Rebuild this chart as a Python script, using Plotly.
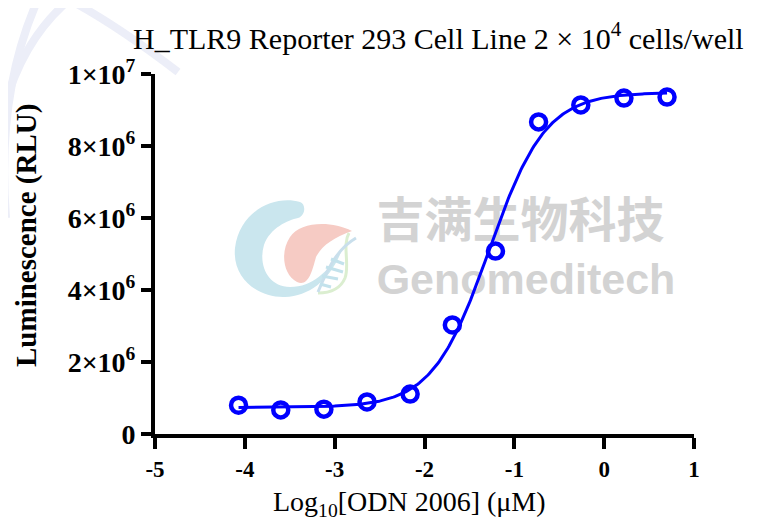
import numpy as np
import plotly.graph_objects as go

# ---- data ----
log_conc = [-4.07, -3.60, -3.12, -2.64, -2.16, -1.69, -1.21, -0.73, -0.26, 0.22, 0.70]
rlu = [0.80e6, 0.67e6, 0.69e6, 0.89e6, 1.11e6, 3.03e6, 5.08e6, 8.67e6, 9.14e6, 9.33e6, 9.36e6]

y_tickvals = [0, 2e6, 4e6, 6e6, 8e6, 1e7]
y_ticktext = ["0", "2×10<sup>6</sup>", "4×10<sup>6</sup>", "6×10<sup>6</sup>",
              "8×10<sup>6</sup>", "1×10<sup>7</sup>"]
x_tickvals = [-5, -4, -3, -2, -1, 0, 1]
x_ticktext = ["-5", "-4", "-3", "-2", "-1", "0", "1"]

title_text = "H_TLR9 Reporter 293 Cell Line 2 × 10<sup>4</sup> cells/well"
x_title = "Log<sub>10</sub>[ODN 2006] (μM)"
y_title = "Luminescence (RLU)"

# ---- 4-parameter logistic fit of the data (as the original curve) ----
xd = np.array(log_conc)
yd = np.array(rlu)
cs = np.arange(-2.0, -0.5, 0.005)
hs = np.arange(0.4, 3.0, 0.01)
C, H = np.meshgrid(cs, hs, indexing="ij")
F = 1.0 / (1.0 + 10 ** ((C[..., None] - xd) * H[..., None]))
n = len(xd)
Sf = F.sum(-1); Sff = (F * F).sum(-1); Sy = yd.sum(); Sfy = (F * yd).sum(-1)
det = n * Sff - Sf * Sf
a = (Sff * Sy - Sf * Sfy) / det
b = (n * Sfy - Sf * Sy) / det
sse = ((a[..., None] + b[..., None] * F - yd) ** 2).sum(-1)
i, j = np.unravel_index(np.argmin(sse), sse.shape)
ec, hill, bottom, span = cs[i], hs[j], a[i, j], b[i, j]
xc = np.linspace(xd.min(), xd.max(), 300)
yc = bottom + span / (1.0 + 10 ** ((ec - xc) * hill))

# ---- layout geometry (screen pixels; page body has an 8px offset) ----
OFF = 8
W, Hh = 759 - OFF, 525 - OFF
PX0, PX1, PY0, PY1 = 155, 694, 74, 434          # plot area on screen
L, T = PX0 - OFF, PY0 - OFF
R = W - (PX1 - OFF)
B = Hh - (PY1 - OFF)
PW, PH = PX1 - PX0, PY1 - PY0


def px(xp, yp):
    return (xp - PX0) / PW, (PY1 - yp) / PH


def path(cmds):
    out = []
    for c in cmds:
        if isinstance(c, str):
            out.append(c)
        else:
            xx, yy = px(*c)
            out.append(f"{xx:.4f},{yy:.4f}")
    return " ".join(out)


BLUE = "#0000FF"
SERIF = "Liberation Serif"

fig = go.Figure()

# watermark text (below data)
fig.add_trace(go.Scatter(
    x=[-0.93], y=[5.80e6], mode="text", text=["吉满生物科技"],
    textfont=dict(family="Noto Sans CJK SC", size=48, color="#d3d3d3", weight="bold"),
    hoverinfo="skip", showlegend=False))
fig.add_trace(go.Scatter(
    x=[-0.87], y=[4.18e6], mode="text", text=["Genomeditech"],
    textfont=dict(family="Liberation Sans", size=43, color="#d3d3d3", weight="bold"),
    hoverinfo="skip", showlegend=False))

# fitted curve
fig.add_trace(go.Scatter(x=xc, y=yc, mode="lines",
                         line=dict(color=BLUE, width=3), hoverinfo="skip",
                         showlegend=False, cliponaxis=False))
# data points
fig.add_trace(go.Scatter(x=log_conc, y=rlu, mode="markers",
                         marker=dict(symbol="circle-open", size=15, color=BLUE,
                                     line=dict(color=BLUE, width=4.5)),
                         showlegend=False, cliponaxis=False))

shapes = []
# logo: blue C
shapes.append(dict(type="path", xref="paper", yref="paper", layer="below",
                   path=path(["M", (300, 202), "C", (275, 195), (240, 210), (235, 248),
                              "C", (232, 280), (260, 298), (285, 297),
                              "C", (310, 296), (330, 280), (342, 250),
                              "C", (330, 268), (315, 287), (290, 287),
                              "C", (268, 287), (258, 265), (264, 245),
                              "C", (270, 228), (288, 220), (298, 218),
                              "C", (306, 215), (306, 204), (300, 202), "Z"]),
                   fillcolor="#cae6ee", line=dict(width=0)))
# logo: pink drop
shapes.append(dict(type="path", xref="paper", yref="paper", layer="below",
                   path=path(["M", (352, 231), "C", (330, 220), (300, 222), (290, 237),
                              "C", (280, 252), (283, 275), (297, 282),
                              "C", (308, 287), (312, 272), (316, 257),
                              "C", (322, 245), (335, 237), (352, 231), "Z"]),
                   fillcolor="#f6cbc4", line=dict(width=0)))
# logo: green strand
shapes.append(dict(type="path", xref="paper", yref="paper", layer="below",
                   path=path(["M", (349, 233), "C", (342, 245), (350, 265), (345, 278),
                              "C", (340, 290), (330, 293), (318, 293)]),
                   line=dict(color="#dbeed0", width=3)))
# logo: blue strand and DNA bars
shapes.append(dict(type="path", xref="paper", yref="paper", layer="below",
                   path=path(["M", (318, 292), "C", (325, 275), (335, 250), (356, 238)]),
                   line=dict(color="#c9dfec", width=3)))
for (x0, y0, x1, y1) in [(331, 259, 344, 264), (326, 267, 343, 272),
                         (322, 276, 338, 279), (320, 284, 331, 287)]:
    a0 = px(x0, y0); a1 = px(x1, y1)
    shapes.append(dict(type="line", xref="paper", yref="paper", layer="below",
                       x0=a0[0], y0=a0[1], x1=a1[0], y1=a1[1],
                       line=dict(color="#c3e2ec", width=3)))
# faint background arcs (top-left)
for cmds in [["M", (40, -5), "Q", (-4, 90), (6, 218)],
             ["M", (60, -5), "Q", (110, 20), (178, 72)],
             ["M", (0, 125), "Q", (18, 40), (75, -5)]]:
    shapes.append(dict(type="path", xref="paper", yref="paper", layer="below",
                       path=path(cmds), line=dict(color="#eceef8", width=8)))

fig.update_layout(
    width=W, height=Hh,
    margin=dict(l=L, r=R, t=T, b=B, pad=0),
    paper_bgcolor="white", plot_bgcolor="white",
    font=dict(family=SERIF, color="black"),
    shapes=shapes,
    annotations=[
        dict(text=title_text, xref="paper", yref="paper",
             x=px(438, 0)[0], y=px(0, 36)[1], xanchor="center", yanchor="middle",
             showarrow=False, font=dict(family=SERIF, size=30, color="black")),
        dict(text=x_title, xref="paper", yref="paper",
             x=px(409, 0)[0], y=px(0, 503)[1], xanchor="center", yanchor="middle",
             showarrow=False, font=dict(family=SERIF, size=28, color="black")),
        dict(text="<b>" + y_title + "</b>", xref="paper", yref="paper", textangle=-90,
             x=px(27, 0)[0], y=px(0, 236)[1], xanchor="center", yanchor="middle",
             showarrow=False, font=dict(family=SERIF, size=29, color="black")),
    ],
    xaxis=dict(range=[-5, 1], tickvals=x_tickvals, ticktext=x_ticktext,
               showgrid=False, zeroline=False, showline=True, linecolor="black", linewidth=4,
               ticks="outside", ticklen=11, tickwidth=4, tickcolor="black",
               tickfont=dict(family=SERIF, size=23, color="black", weight="bold")),
    yaxis=dict(range=[0, 1e7], tickvals=y_tickvals, ticktext=y_ticktext,
               showgrid=False, zeroline=False, showline=True, linecolor="black", linewidth=4,
               ticks="outside", ticklen=10, tickwidth=4, tickcolor="black",
               tickfont=dict(family=SERIF, size=28, color="black", weight="bold")),
)

fig.write_html("out.html")
